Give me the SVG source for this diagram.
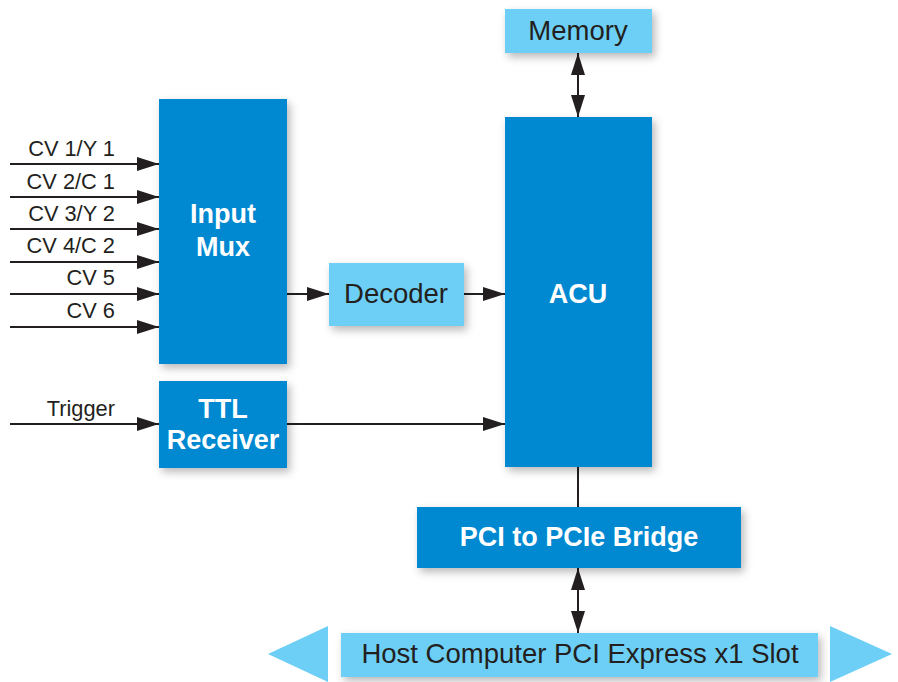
<svg xmlns="http://www.w3.org/2000/svg" width="898" height="682" viewBox="0 0 898 682">
<style>
.dark{fill:#0088d1;}
.light{fill:#6dcff6;}
.bt{font-family:"Liberation Sans",Arial,sans-serif;font-weight:bold;font-size:27px;fill:#ffffff;text-anchor:middle;}
.rt{font-family:"Liberation Sans",Arial,sans-serif;font-size:27.5px;fill:#231f20;text-anchor:middle;}
.lt{font-family:"Liberation Sans",Arial,sans-serif;font-size:21.8px;fill:#231f20;text-anchor:end;}
.ln{stroke:#231f20;stroke-width:2;fill:none;}
</style>
<defs>
<filter id="sh" x="-20%" y="-20%" width="150%" height="150%">
<feDropShadow dx="3" dy="4" stdDeviation="4" flood-color="#000" flood-opacity="0.28"/>
</filter>
<marker id="ah" markerUnits="userSpaceOnUse" markerWidth="22" markerHeight="14" refX="22" refY="7" orient="auto-start-reverse">
<path d="M0,0 L22,7 L0,14 z" fill="#231f20"/>
</marker>
</defs>
<rect width="898" height="682" fill="#ffffff"/>
<g id="connectors">
<line class="ln" x1="10" y1="164" x2="159" y2="164" marker-end="url(#ah)"/>
<line class="ln" x1="10" y1="197" x2="159" y2="197" marker-end="url(#ah)"/>
<line class="ln" x1="10" y1="229" x2="159" y2="229" marker-end="url(#ah)"/>
<line class="ln" x1="10" y1="262" x2="159" y2="262" marker-end="url(#ah)"/>
<line class="ln" x1="10" y1="294" x2="159" y2="294" marker-end="url(#ah)"/>
<line class="ln" x1="10" y1="327" x2="159" y2="327" marker-end="url(#ah)"/>
<line class="ln" x1="10" y1="424" x2="159" y2="424" marker-end="url(#ah)"/>
<line class="ln" x1="287" y1="294" x2="329" y2="294" marker-end="url(#ah)"/>
<line class="ln" x1="464" y1="294" x2="505" y2="294" marker-end="url(#ah)"/>
<line class="ln" x1="287" y1="424" x2="505" y2="424" marker-end="url(#ah)"/>
<line class="ln" x1="578" y1="53" x2="578" y2="117" marker-start="url(#ah)" marker-end="url(#ah)"/>
<line class="ln" x1="578" y1="467" x2="578" y2="507" stroke-width="1.6"/>
<line class="ln" x1="578" y1="568" x2="578" y2="633" marker-start="url(#ah)" marker-end="url(#ah)"/>
<text class="lt" x="115" y="156">CV 1/Y 1</text>
<text class="lt" x="115" y="189">CV 2/C 1</text>
<text class="lt" x="115" y="221">CV 3/Y 2</text>
<text class="lt" x="115" y="253">CV 4/C 2</text>
<text class="lt" x="115" y="285">CV 5</text>
<text class="lt" x="115" y="318">CV 6</text>
<text class="lt" x="115" y="416">Trigger</text>
</g>
<g id="input-mux">
<rect class="dark" x="159" y="99" width="128" height="265" filter="url(#sh)"/>
<text class="bt" x="223" y="223">Input</text>
<text class="bt" x="223" y="256">Mux</text>
</g>
<g id="ttl-receiver">
<rect class="dark" x="159" y="381" width="128" height="87" filter="url(#sh)"/>
<text class="bt" x="223" y="418">TTL</text>
<text class="bt" x="223" y="449">Receiver</text>
</g>
<g id="decoder">
<rect class="light" x="329" y="263" width="135" height="63" filter="url(#sh)"/>
<text class="rt" x="396" y="303">Decoder</text>
</g>
<g id="memory">
<rect class="light" x="505" y="9" width="147" height="44" filter="url(#sh)"/>
<text class="rt" x="578" y="40">Memory</text>
</g>
<g id="acu">
<rect class="dark" x="505" y="117" width="147" height="350" filter="url(#sh)"/>
<text class="bt" x="578" y="303">ACU</text>
</g>
<g id="bridge">
<rect class="dark" x="417" y="507" width="324" height="61" filter="url(#sh)"/>
<text class="bt" x="579" y="546">PCI to PCIe Bridge</text>
</g>
<g id="host-slot">
<polygon class="light" points="328,626 268,654 328,682"/>
<polygon class="light" points="830,626 892,654 830,682"/>
<rect class="light" x="341" y="633" width="477" height="44" filter="url(#sh)"/>
<text class="rt" x="580" y="663">Host Computer PCI Express x1 Slot</text>
</g>
</svg>
